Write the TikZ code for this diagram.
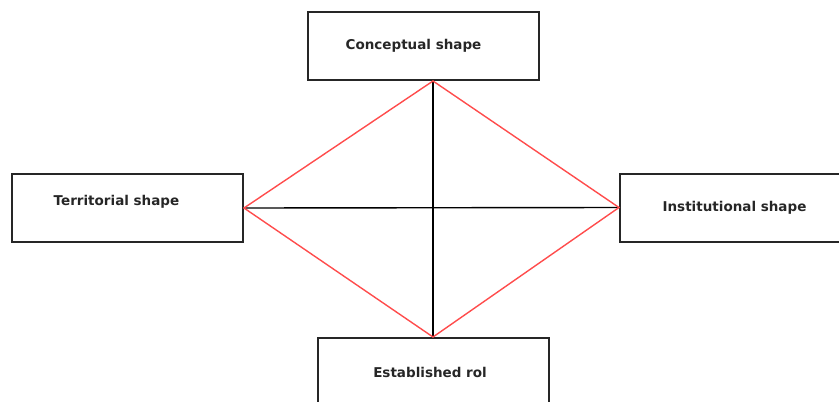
\documentclass[tikz,border=0pt]{standalone}
\usepackage{fontspec}
\setmainfont{DejaVu Sans}
\begin{document}
\begin{tikzpicture}[x=1pt,y=-1pt,
  box/.style={draw=black!85,line width=2pt,minimum width=231pt,minimum height=68pt,inner sep=0pt},
  lbl/.style={font=\fontsize{13.5}{16}\selectfont\bfseries,text=black!85},
  redline/.style={draw=red!70,line width=1.4pt},
  blackline/.style={draw=black,line width=1.4pt}]
\useasboundingbox (0,0) rectangle (839,402);
\clip (0,0) rectangle (839,402);
\node[box,label={[lbl,xshift=-10pt]center:Conceptual shape}] (concept) at (423.5,46) {};
\node[box,label={[lbl,xshift=-11pt,yshift=6pt]center:Territorial shape}] (terr) at (127.5,208) {};
\node[box,label={[lbl,xshift=-1pt]center:Institutional shape}] (inst) at (735.5,207.5) {};
\node[box,label={[lbl,xshift=-3pt]center:Established rol}] (estab) at (433,372) {};
\coordinate (top) at (concept.south -| estab.north);
\draw[blackline] (top) -- (estab.north);
\draw[blackline] (terr.east) -- (inst.west);
\draw[redline] (terr.east) -- (top) -- (inst.west) -- (estab.north) -- cycle;
\end{tikzpicture}
\end{document}
